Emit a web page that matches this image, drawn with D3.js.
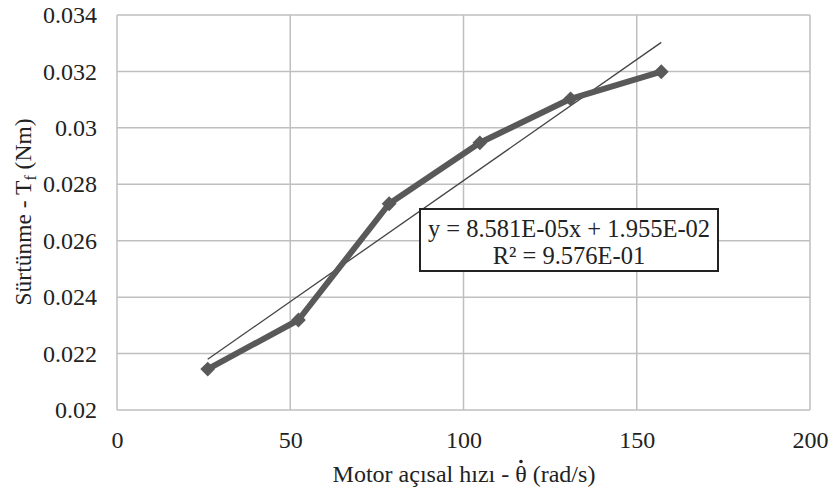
<!DOCTYPE html>
<html><head><meta charset="utf-8">
<script src="https://cdn.jsdelivr.net/npm/d3@7"></script>
<style>body{margin:0;background:#fff}svg{display:block}</style>
</head><body>
<svg id="c" width="835" height="489"></svg>
<script>
const xValues = [26.18, 52.36, 78.54, 104.72, 130.90, 157.08];
const yValues = [0.02145, 0.02319, 0.02731, 0.02947, 0.03103, 0.03199];
const xTicks = [0, 50, 100, 150, 200];
const yTicks = [0.02, 0.022, 0.024, 0.026, 0.028, 0.03, 0.032, 0.034];
const yTickLabels = ["0.02","0.022","0.024","0.026","0.028","0.03","0.032","0.034"];
const trendSlope = 8.581e-5, trendIntercept = 1.955e-2;
const eqText = "y = 8.581E-05x + 1.955E-02";
const r2Text = "R² = 9.576E-01";

const svg = d3.select("#c");
const font = '"Liberation Serif", "Times New Roman", serif';

const x = d3.scaleLinear().domain([0,200]).range([117, 810]);
const y = d3.scaleLinear().domain([0.02,0.034]).range([410, 15]);
const grid = "#bfbfbf";
const ink = "#222";

// grid
svg.append("g").selectAll("line").data(yTicks).join("line")
  .attr("x1", x(0)).attr("x2", x(200)).attr("y1", d=>y(d)).attr("y2", d=>y(d))
  .attr("stroke", grid).attr("stroke-width", 1.5);
svg.append("g").selectAll("line").data(xTicks).join("line")
  .attr("y1", y(0.02)).attr("y2", y(0.034)).attr("x1", d=>x(d)).attr("x2", d=>x(d))
  .attr("stroke", grid).attr("stroke-width", 1.5);

// axes (labels only)
const xa = svg.append("g").attr("transform", `translate(0,${y(0.02)})`)
  .call(d3.axisBottom(x).tickValues(xTicks).tickSize(0).tickPadding(21));
const ya = svg.append("g").attr("transform", `translate(${x(0)},0)`)
  .call(d3.axisLeft(y).tickValues(yTicks).tickFormat((d,i)=>yTickLabels[i]).tickSize(0).tickPadding(20));
[xa, ya].forEach(a => {
  a.attr("font-family", font);
  a.select(".domain").remove();
  a.selectAll("text").attr("font-size", 24).attr("fill", ink);
});

// trendline
const tx = [d3.min(xValues), d3.max(xValues)];
svg.append("line")
  .attr("x1", x(tx[0])).attr("y1", y(trendIntercept + trendSlope*tx[0]))
  .attr("x2", x(tx[1])).attr("y2", y(trendIntercept + trendSlope*tx[1]))
  .attr("stroke", "#444").attr("stroke-width", 1.3);

// series
const pts = xValues.map((v,i)=>[v, yValues[i]]);
svg.append("path").datum(pts)
  .attr("d", d3.line().x(d=>x(d[0])).y(d=>y(d[1])))
  .attr("fill", "none").attr("stroke", "#595959").attr("stroke-width", 6)
  .attr("stroke-linejoin", "round");
svg.append("g").selectAll("path").data(pts).join("path")
  .attr("d", d3.symbol().type(d3.symbolSquare).size(110))
  .attr("transform", d=>`translate(${x(d[0])},${y(d[1])}) rotate(45)`)
  .attr("fill", "#595959");

// equation box
svg.append("rect").attr("x", 420).attr("y", 209).attr("width", 298).attr("height", 62)
  .attr("fill", "#fff").attr("stroke", ink).attr("stroke-width", 2);
svg.append("text").attr("x", 569).attr("y", 237).attr("text-anchor", "middle")
  .attr("font-family", font).attr("font-size", 24.5).attr("fill", ink).text(eqText);
svg.append("text").attr("x", 569).attr("y", 264).attr("text-anchor", "middle")
  .attr("font-family", font).attr("font-size", 24.5).attr("fill", ink).text(r2Text);

// axis titles
const xt = svg.append("text").attr("x", 464).attr("y", 482).attr("text-anchor", "middle")
  .attr("font-family", font).attr("font-size", 24).attr("fill", ink);
xt.append("tspan").text("Motor açısal hızı - ");
xt.append("tspan").text("θ");
xt.append("tspan").text(" (rad/s)");
const node = xt.node();
const thetaIdx = "Motor açısal hızı - ".length;
const p0 = node.getStartPositionOfChar(thetaIdx);
const p1 = node.getEndPositionOfChar(thetaIdx);
svg.append("circle").attr("cx", (p0.x + p1.x)/2).attr("cy", p0.y - 20.5)
  .attr("r", 1.8).attr("fill", ink);

const yt = svg.append("text").attr("transform", "translate(31,212) rotate(-90)")
  .attr("text-anchor", "middle").attr("font-family", font).attr("font-size", 23.5).attr("fill", ink);
yt.append("tspan").text("Sürtünme - T");
yt.append("tspan").attr("font-size", 16).attr("dy", 5).text("f");
yt.append("tspan").attr("dy", -5).text(" (Nm)");
</script>
</body></html>
